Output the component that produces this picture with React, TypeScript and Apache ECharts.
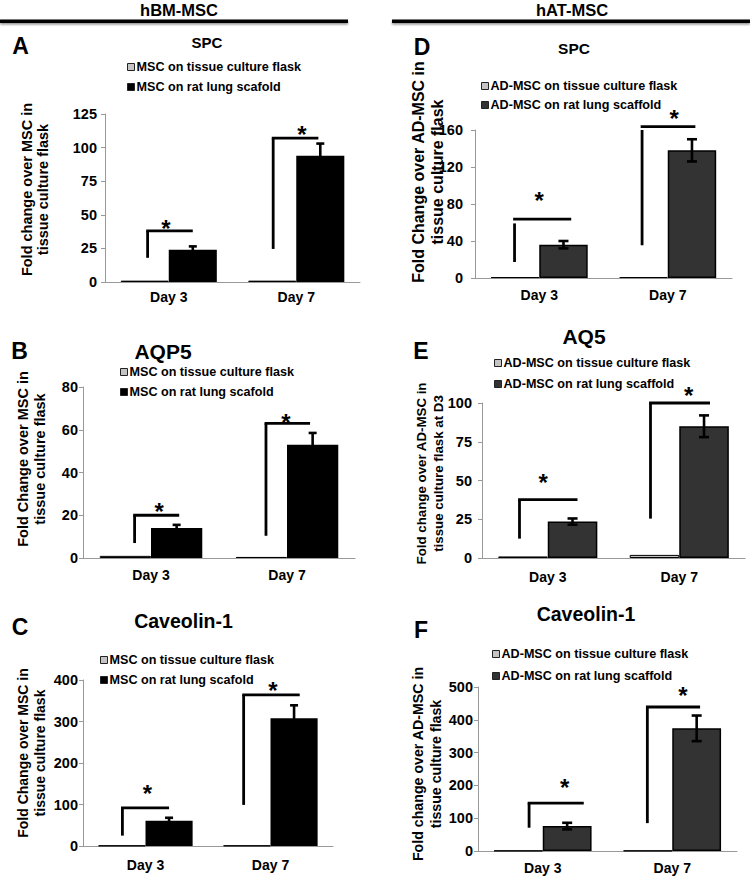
import React, { useEffect, useRef } from 'react';
import * as echarts from 'echarts';

const FONT = '"Liberation Sans", Arial, Helvetica, sans-serif';
const BAR_FRAC = 0.377;

// categories
const days = ['Day 3', 'Day 7'];

// legend names
const bmNames = ['MSC on tissue culture flask', 'MSC on rat lung scafold'];
const atNames = ['AD-MSC on tissue culture flask', 'AD-MSC on rat lung scaffold'];

// Panel A – SPC (hBM-MSC)
const flaskA = [1, 1];
const scafA = [24, 94];
const errA = [2.5, 9];
// Panel B – AQP5 (hBM-MSC)
const flaskB = [1, 0.5];
const scafB = [14, 53];
const errB = [1.5, 5.5];
// Panel C – Caveolin-1 (hBM-MSC)
const flaskC = [1, 1];
const scafC = [61, 308];
const errC = [7, 31];
// Panel D – SPC (hAT-MSC)
const flaskD = [1, 1];
const scafD = [36, 138];
const errD = [4, 12];
// Panel E – AQ5 (hAT-MSC)
const flaskE = [1, 2];
const scafE = [23.5, 85];
const errE = [2, 7];
// Panel F – Caveolin-1 (hAT-MSC)
const flaskF = [1, 1];
const scafF = [76, 374];
const errF = [10, 39];

// significance brackets: [category, bottom, top of vertical, horizontal line value, star value, left, right, star x] (x in bar widths)
const bracketsA = [[0, 18, 38, 38, 44, -0.44, 0.5, -0.06], [1, 24.6, 107, 107, 114, -0.48, 0.46, 0.12]];
const bracketsB = [[0, 7, 20, 20, 24.5, -0.32, 0.55, 0.16], [1, 10.4, 63, 63, 66, -0.41, 0.45, -0.02]];
const bracketsC = [[0, 25, 92, 92, 140, -0.49, 0.5, 0.04], [1, 99, 364, 364, 388, -0.57, 0.62, 0.05]];
const bracketsD = [[0, 17.3, 59, 63.6, 89.6, -0.51, 0.66, 0], [1, 35.4, 160, 163.6, 178.4, -0.53, 0.57, 0.13]];
const bracketsE = [[0, 12.5, 37.7, 37.7, 52.4, -0.57, 0.6, -0.09], [1, 25.4, 100, 100, 108.8, -0.58, 0.62, 0.19]];
const bracketsF = [[0, 71, 146, 146, 210, -0.28, 0.84, 0.45], [1, 85, 439, 439, 490, -0.51, 0.57, 0.22]];

const panels = [
  {
    letter: 'A', title: 'SPC', names: bmNames,
    flask: flaskA, scaf: scafA, err: errA, brackets: bracketsA,
    max: 125, interval: 25, dark: '#000',
    grid: { left: 105, top: 114, width: 255, height: 168 },
    labelMargin: 8, xMargin: 8,
    legend: { left: 127, top: 60, gap: 6 },
    yName: 'Fold change over MSC in\ntissue culture flask',
    nameBox: { x: 35, y: 189.5, fs: 14.5, lh: 16 },
    letterPos: [20.5, 46], titlePos: [207, 42.5], titleSize: 15,
    cap: 8,
  },
  {
    letter: 'B', title: 'AQP5', names: bmNames,
    flask: flaskB, scaf: scafB, err: errB, brackets: bracketsB,
    max: 80, interval: 20, dark: '#000',
    grid: { left: 83, top: 387, width: 272, height: 171 },
    labelMargin: 5, xMargin: 10,
    legend: { left: 120, top: 365, gap: 6 },
    yName: 'Fold Change over MSC in\ntissue culture flask',
    nameBox: { x: 31.5, y: 459, fs: 14.5, lh: 17 },
    letterPos: [19.5, 351], titlePos: [163, 351.5], titleSize: 21,
    cap: 8,
  },
  {
    letter: 'C', title: 'Caveolin-1', names: bmNames,
    flask: flaskC, scaf: scafC, err: errC, brackets: bracketsC,
    max: 400, interval: 100, dark: '#000',
    grid: { left: 83, top: 680, width: 250, height: 166 },
    labelMargin: 5, xMargin: 12,
    legend: { left: 100, top: 653, gap: 6 },
    yName: 'Fold Change over MSC in\ntissue culture flask',
    nameBox: { x: 31.5, y: 753, fs: 14, lh: 17 },
    letterPos: [20, 627], titlePos: [183.5, 621], titleSize: 19.5,
    cap: 8,
  },
  {
    letter: 'D', title: 'SPC', names: atNames,
    flask: flaskD, scaf: scafD, err: errD, brackets: bracketsD,
    max: 160, interval: 40, dark: '#333',
    grid: { left: 475, top: 130, width: 257, height: 148 },
    labelMargin: 12, xMargin: 10,
    legend: { left: 481, top: 79, gap: 5 },
    yName: 'Fold Change over AD-MSC in\ntissue culture flask',
    nameBox: { x: 427.5, y: 172, fs: 16, lh: 19 },
    letterPos: [422, 47], titlePos: [574, 48.3], titleSize: 15.5,
    cap: 10,
  },
  {
    letter: 'E', title: 'AQ5', names: atNames,
    flask: flaskE, scaf: scafE, err: errE, brackets: bracketsE,
    max: 100, interval: 25, dark: '#333',
    grid: { left: 482, top: 403, width: 263, height: 155 },
    labelMargin: 10, xMargin: 12,
    legend: { left: 494, top: 356, gap: 7 },
    yName: 'Fold change over AD-MSC in\ntissue culture flask at D3',
    nameBox: { x: 430, y: 473.5, fs: 13.3, lh: 16.5 },
    letterPos: [421, 351], titlePos: [584, 336], titleSize: 21,
    cap: 10,
  },
  {
    letter: 'F', title: 'Caveolin-1', names: atNames,
    flask: flaskF, scaf: scafF, err: errF, brackets: bracketsF,
    max: 500, interval: 100, dark: '#333',
    grid: { left: 478, top: 687, width: 259, height: 164 },
    labelMargin: 5, xMargin: 10,
    legend: { left: 492, top: 647, gap: 8 },
    yName: 'Fold change over AD-MSC in\ntissue culture flask',
    nameBox: { x: 427, y: 764, fs: 14.2, lh: 18 },
    letterPos: [421, 629.5], titlePos: [586, 614], titleSize: 19.5,
    cap: 10,
  },
];

const STAR_FS = 24;

function makeErrRender(capW: number) {
  return (params: any, api: any) => {
    const cat = api.value(0);
    const v = api.value(1);
    const e = api.value(2);
    const band = api.size([1, 0])[0];
    const bw = band * BAR_FRAC;
    const c = api.coord([cat, v]);
    const x = c[0] + bw / 2;
    const top = api.coord([cat, v + e])[1];
    const bot = api.coord([cat, v - e])[1];
    const st = { stroke: '#000', lineWidth: 2.6 };
    return {
      type: 'group',
      children: [
        { type: 'line', shape: { x1: x, y1: top, x2: x, y2: bot }, style: st },
        { type: 'line', shape: { x1: x - capW / 2, y1: top, x2: x + capW / 2, y2: top }, style: st },
        { type: 'line', shape: { x1: x - capW / 2, y1: bot, x2: x + capW / 2, y2: bot }, style: st },
      ],
    };
  };
}

function bracketRender(params: any, api: any) {
  const cat = api.value(0);
  const b = api.value(1);
  const t = api.value(2);
  const h = api.value(3);
  const s = api.value(4);
  const lf = api.value(5);
  const rf = api.value(6);
  const sf = api.value(7);
  const band = api.size([1, 0])[0];
  const bw = band * BAR_FRAC;
  const cx = api.coord([cat, 0])[0];
  const x1 = cx + lf * bw;
  const x2 = cx + rf * bw;
  const yb = api.coord([cat, b])[1];
  const yt = api.coord([cat, t])[1];
  const yh = api.coord([cat, h])[1];
  const ys = api.coord([cat, s])[1] + 0.235 * STAR_FS;
  const st = { stroke: '#000', lineWidth: 2.8 };
  return {
    type: 'group',
    children: [
      { type: 'line', shape: { x1: x1, y1: yb, x2: x1, y2: yt }, style: st },
      { type: 'line', shape: { x1: x1 - 1.4, y1: yh, x2: x2, y2: yh }, style: st },
      {
        type: 'text', x: cx + sf * bw, y: ys,
        style: {
          text: '*', fill: '#000', font: `bold ${STAR_FS}px ${FONT}`,
          align: 'center', verticalAlign: 'middle', textAlign: 'center', textVerticalAlign: 'middle',
        },
      },
    ],
  };
}

function txt(text: string, x: number, y: number, size: number, extra: any = {}) {
  return {
    type: 'text', x, y, ...extra,
    style: {
      text, fill: '#000', font: `bold ${size}px ${FONT}`,
      align: 'center', verticalAlign: 'middle', textAlign: 'center', textVerticalAlign: 'middle',
      ...(extra.style || {}),
    },
  };
}

export default function App() {
  const ref = useRef<HTMLDivElement>(null);
  useEffect(() => {
    if (!ref.current) return;
    const chart = echarts.init(ref.current, null, { renderer: 'svg' });

    const grids: any[] = [];
    const xAxes: any[] = [];
    const yAxes: any[] = [];
    const series: any[] = [];
    const legends: any[] = [];
    const graphics: any[] = [];

    panels.forEach((p, i) => {
      grids.push({ ...p.grid, containLabel: false });
      xAxes.push({
        type: 'category', gridIndex: i, data: days,
        axisLine: { lineStyle: { color: '#999', width: 1 } },
        axisTick: { show: false },
        axisLabel: { color: '#000', fontWeight: 'bold', fontSize: 14, fontFamily: FONT, margin: p.xMargin },
      });
      yAxes.push({
        type: 'value', gridIndex: i, min: 0, max: p.max, interval: p.interval,
        axisLine: { show: true, lineStyle: { color: '#999', width: 1 } },
        axisTick: { show: true, length: 4, lineStyle: { color: '#999' } },
        splitLine: { show: false },
        axisLabel: { color: '#000', fontWeight: 'bold', fontSize: 14.5, fontFamily: FONT, margin: p.labelMargin },
      });
      series.push({
        type: 'bar', name: p.names[0], xAxisIndex: i, yAxisIndex: i, data: p.flask,
        barWidth: (BAR_FRAC * 100) + '%', barGap: '0%',
        itemStyle: { color: '#c4c4c4', borderColor: '#000', borderWidth: 1 },
      });
      series.push({
        type: 'bar', name: p.names[1], xAxisIndex: i, yAxisIndex: i, data: p.scaf,
        barWidth: (BAR_FRAC * 100) + '%', barGap: '0%',
        itemStyle: { color: p.dark, borderColor: '#000', borderWidth: p.dark === '#000' ? 0 : 1.5 },
      });
      series.push({
        type: 'custom', xAxisIndex: i, yAxisIndex: i, silent: true, clip: false, z: 5,
        data: p.scaf.map((v, k) => [k, v, p.err[k]]),
        encode: { x: 0, y: 1 },
        renderItem: makeErrRender(p.cap),
      });
      series.push({
        type: 'custom', xAxisIndex: i, yAxisIndex: i, silent: true, clip: false, z: 5,
        data: p.brackets,
        encode: { x: 0, y: 1 },
        renderItem: bracketRender,
      });
      legends.push({
        orient: 'vertical', left: p.legend.left, top: p.legend.top, itemGap: p.legend.gap,
        itemWidth: 7, itemHeight: 7, icon: 'rect', padding: 0,
        selectedMode: false,
        data: p.names,
        itemStyle: { borderColor: '#222', borderWidth: 1 },
        textStyle: { color: '#000', fontWeight: 'bold', fontSize: 12.6, fontFamily: FONT, lineHeight: 14, padding: [0, 0, 0, -3] },
      });
      graphics.push(txt(p.letter, p.letterPos[0], p.letterPos[1], 23));
      graphics.push(txt(p.title, p.titlePos[0], p.titlePos[1], p.titleSize));
      graphics.push(txt(p.yName, p.nameBox.x, p.nameBox.y, p.nameBox.fs, {
        rotation: Math.PI / 2,
        style: { lineHeight: p.nameBox.lh },
      }));
    });

    // column headers
    graphics.push(txt('hBM-MSC', 179, 10, 16.5));
    graphics.push(txt('hAT-MSC', 572, 10, 16.5));
    graphics.push({
      type: 'rect', shape: { x: 0, y: 19.5, width: 348, height: 3.5 },
      style: { fill: '#000', shadowColor: 'rgba(0,0,0,0.45)', shadowBlur: 2, shadowOffsetY: 1.5 },
    });
    graphics.push({
      type: 'rect', shape: { x: 392, y: 19.5, width: 358, height: 3.5 },
      style: { fill: '#000', shadowColor: 'rgba(0,0,0,0.45)', shadowBlur: 2, shadowOffsetY: 1.5 },
    });

    chart.setOption({
      animation: false,
      backgroundColor: '#fff',
      grid: grids,
      xAxis: xAxes,
      yAxis: yAxes,
      legend: legends,
      series,
      graphic: graphics,
    });
    return () => chart.dispose();
  }, []);
  return (
    <div
      ref={ref}
      style={{ position: 'fixed', left: 0, top: 0, width: 750, height: 877, background: '#fff' }}
    />
  );
}
